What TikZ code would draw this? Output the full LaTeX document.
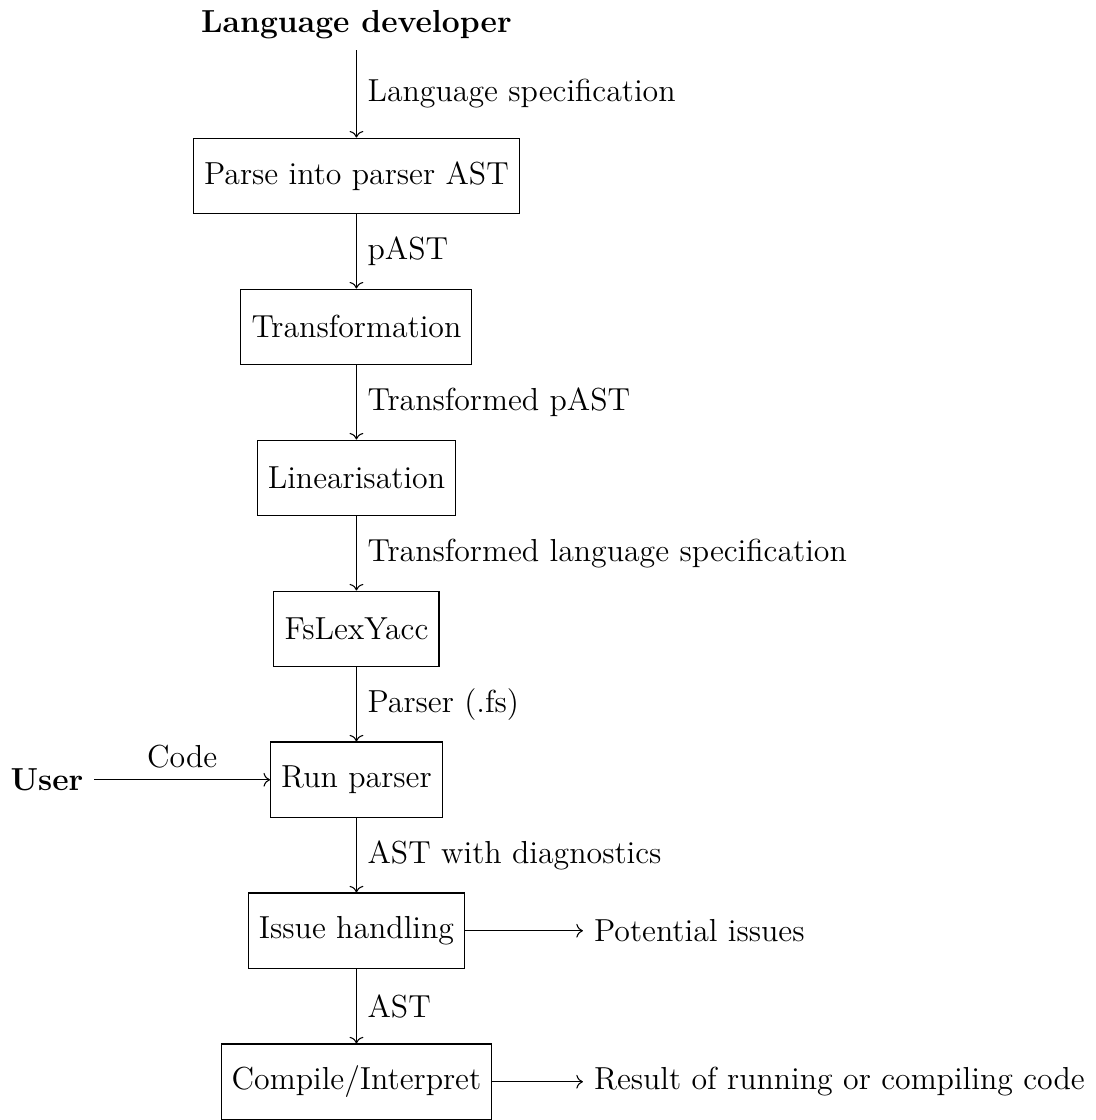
\documentclass[12pt,tikz,border=0pt]{standalone}
\usepackage{tikz}
\usetikzlibrary{arrows.meta, positioning}

\begin{document}
\begin{tikzpicture}[
  stage/.style={rectangle, draw, minimum height=1cm, align=center},
  actor/.style={font=\bfseries},
  outp/.style={anchor=west},
  arr/.style={->},
  lbl/.style={right},
]

\node[actor] (dev) at (0,2) {Language developer};
\node[stage] (parse) at (0,0) {Parse into parser AST};
\node[stage] (trans) at (0,-2) {Transformation};
\node[stage] (lin) at (0,-4) {Linearisation};
\node[stage] (fsly) at (0,-6) {FsLexYacc};
\node[stage] (run) at (0,-8) {Run parser};
\node[stage] (issue) at (0,-10) {Issue handling};
\node[stage] (comp) at (0,-12) {Compile/Interpret};

\node[actor] (user) at (-4.1,-8) {User};
\node[outp] (pot) at (3,-10) {Potential issues};
\node[outp] (res) at (3,-12) {Result of running or compiling code};

\draw[arr] (dev) -- node[lbl] {Language specification} (parse);
\draw[arr] (parse) -- node[lbl] {pAST} (trans);
\draw[arr] (trans) -- node[lbl] {Transformed pAST} (lin);
\draw[arr] (lin) -- node[lbl] {Transformed language specification} (fsly);
\draw[arr] (fsly) -- node[lbl] {Parser (.fs)} (run);
\draw[arr] (user) -- node[above] {Code} (run);
\draw[arr] (run) -- node[lbl] {AST with diagnostics} (issue);
\draw[arr] (issue) -- node[lbl] {AST} (comp);
\draw[arr] (issue) -- (pot);
\draw[arr] (comp) -- (res);

\end{tikzpicture}
\end{document}
